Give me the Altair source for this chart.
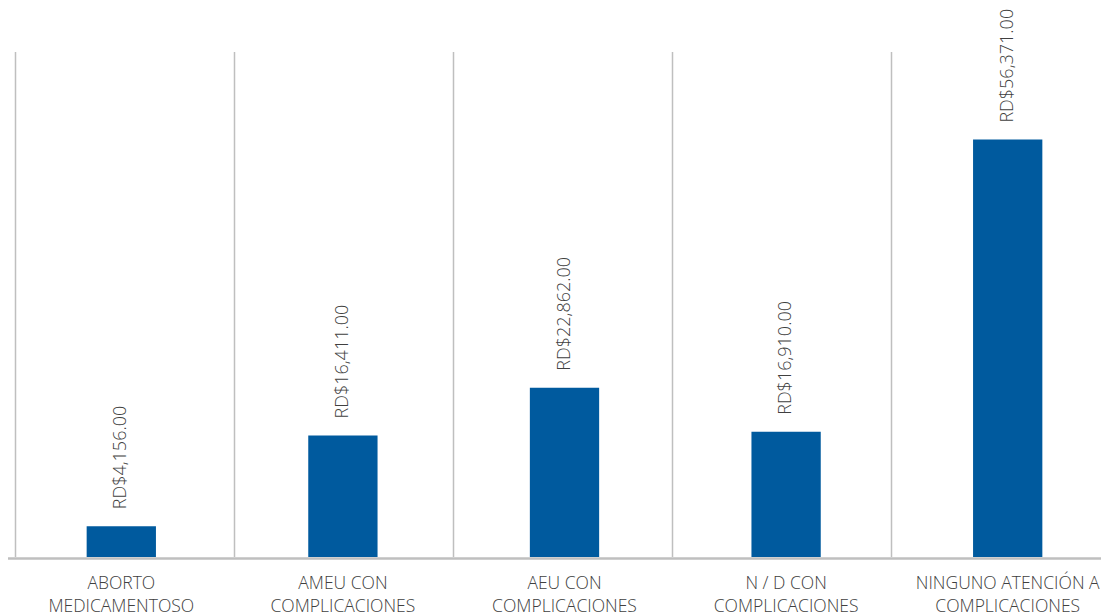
import altair as alt
import pandas as pd

categories = [
    "ABORTO\nMEDICAMENTOSO",
    "AMEU CON\nCOMPLICACIONES",
    "AEU CON\nCOMPLICACIONES",
    "N / D CON\nCOMPLICACIONES",
    "NINGUNO ATENCIÓN A\nCOMPLICACIONES",
]
values = [4156, 16411, 22862, 16910, 56371]
labels = ["RD$4,156.00", "RD$16,411.00", "RD$22,862.00", "RD$16,910.00", "RD$56,371.00"]

df = pd.DataFrame({"cat": categories, "value": values, "label": labels})

FONT = "Open Sans"
TXT = "#404040"
GRID = "#bfbfbf"

bar_scale = alt.Scale(paddingInner=0, paddingOuter=0, range=[-4.5, 1103.5])

x_bar = alt.X(
    "cat:N",
    sort=categories,
    scale=bar_scale,
    axis=alt.Axis(
        title=None,
        labelAngle=0,
        labelExpr="split(datum.label, '\\n')",
        labelFont=FONT,
        labelFontSize=17.5,
        labelFontWeight=300,
        labelColor=TXT,
        labelLineHeight=23.3,
        labelPadding=17,
        labelBaseline="top",
        labelLimit=0,
        ticks=False,
        grid=False,
        domain=False,
    ),
)
x_text = alt.X("cat:N", sort=categories, scale=bar_scale, axis=None)
y = alt.Y(
    "value:Q",
    scale=alt.Scale(domain=[0, 68200], nice=False),
    axis=None,
)

grid = alt.Chart(df).mark_rule(color=GRID, strokeWidth=1.5).encode(
    x=alt.X(
        "cat:N",
        sort=categories,
        bandPosition=0,
        scale=alt.Scale(paddingInner=0, paddingOuter=0, range=[0.5, 1095.5]),
        axis=None,
    )
)

baseline = alt.Chart(df.head(1)).mark_rule(color=GRID, strokeWidth=2.5).encode(
    x=alt.value(-7), x2=alt.value(1100), y=alt.value(506.5)
)

bars = alt.Chart(df).mark_bar(color="#005A9E", width={"band": 0.3127}).encode(x=x_bar, y=y)
text = alt.Chart(df).mark_text(
    angle=270, align="left", baseline="middle", dx=17,
    font=FONT, fontSize=18, fontWeight=300, color=TXT,
).encode(x=x_text, y=y, text="label:N")

chart = (
    alt.layer(grid, baseline, bars, text)
    .resolve_scale(x="independent")
    .properties(
        width=1086,
        height=505,
        background="white",
        autosize=alt.AutoSizeParams(type="none"),
        padding={"left": 7, "top": 44, "right": 0, "bottom": 59},
    )
    .configure_view(strokeWidth=0, stroke="transparent")
)

chart.save("out.html", embed_options={"renderer": "svg", "actions": False})
